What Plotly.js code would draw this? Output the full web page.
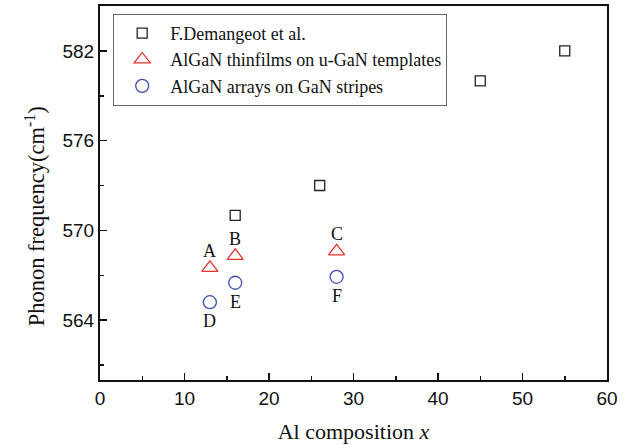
<!DOCTYPE html>
<html><head><meta charset="utf-8">
<script src="https://cdn.plot.ly/plotly-3.0.1.min.js"></script>
<style>html,body{margin:0;padding:0;background:#fff;}#chart{width:631px;height:445px;}</style>
</head><body><div id="chart"></div>
<script>
const demX = [16, 26, 45, 55];
const demY = [571.0, 573.0, 580.0, 582.0];
const filmX = [13, 16, 28];
const filmY = [567.5, 568.3, 568.6];
const filmLabels = ['A', 'B', 'C'];
const arrX = [13, 16, 28];
const arrY = [565.2, 566.5, 566.9];
const arrLabels = ['D', 'E', 'F'];
const names = ['F.Demangeot et al.', 'AlGaN thinfilms on u-GaN templates', 'AlGaN arrays on GaN stripes'];
const xTitle = 'Al composition <i>x</i>';
const yTitle = 'Phonon frequency(cm<sup>-1</sup>)';

const serif = 'Liberation Serif, Times New Roman, serif';
const sans = 'Liberation Sans, Arial, sans-serif';

const traces = [
  {x: demX, y: demY, name: names[0], mode: 'markers', type: 'scatter',
   marker: {symbol: 'square-open', size: 10, color: '#222', line: {width: 1.3}}},
  {x: filmX, y: filmY, name: names[1], mode: 'markers', type: 'scatter',
   marker: {symbol: 'triangle-up-open', size: 14, color: '#e8322c', line: {width: 1.3}}},
  {x: arrX, y: arrY, name: names[2], mode: 'markers', type: 'scatter',
   marker: {symbol: 'circle-open', size: 13, color: '#3a4fb5', line: {width: 1.3}}}
];

const annotations = [];
filmX.forEach((x, i) => annotations.push({x: x, y: filmY[i], text: filmLabels[i], showarrow: false,
  yshift: 17, font: {family: serif, size: 18, color: '#111'}}));
arrX.forEach((x, i) => annotations.push({x: x, y: arrY[i], text: arrLabels[i], showarrow: false,
  yshift: -19, font: {family: serif, size: 18, color: '#111'}}));
annotations.push({xref: 'paper', yref: 'paper', x: -0.128, y: 0.438, text: yTitle, textangle: -90,
  showarrow: false, xanchor: 'center', yanchor: 'middle', font: {family: serif, size: 22.5, color: '#111'}});

const layout = {
  width: 631, height: 445,
  margin: {l: 100, r: 24, t: 6, b: 65},
  paper_bgcolor: '#fff', plot_bgcolor: '#fff',
  showlegend: true,
  legend: {x: 0.026, y: 0.979, xanchor: 'left', yanchor: 'top',
    bordercolor: '#666', borderwidth: 1, bgcolor: 'rgba(255,255,255,0)',
    font: {family: serif, size: 18, color: '#111'}, itemwidth: 46, tracegroupgap: 0},
  xaxis: {range: [0, 60], tickmode: 'linear', tick0: 0, dtick: 10,
    ticks: 'inside', ticklen: 7, tickwidth: 1.5, tickcolor: '#111',
    minor: {dtick: 5, ticks: 'inside', ticklen: 4, tickwidth: 1.5, tickcolor: '#111'},
    showline: true, linecolor: '#111', linewidth: 2, mirror: true,
    showgrid: false, zeroline: false,
    tickfont: {family: sans, size: 19, color: '#111'},
    title: {text: xTitle, font: {family: serif, size: 22, color: '#111'}, standoff: 16}},
  yaxis: {range: [560, 585], tickmode: 'linear', tick0: 564, dtick: 6,
    ticks: 'inside', ticklen: 7, tickwidth: 1.5, tickcolor: '#111',
    minor: {dtick: 3, tick0: 561, ticks: 'inside', ticklen: 4, tickwidth: 1.5, tickcolor: '#111'},
    showline: true, linecolor: '#111', linewidth: 2, mirror: true,
    showgrid: false, zeroline: false,
    tickfont: {family: sans, size: 19, color: '#111'}},
  annotations: annotations
};

Plotly.newPlot('chart', traces, layout, {displayModeBar: false, staticPlot: true});
</script></body></html>
